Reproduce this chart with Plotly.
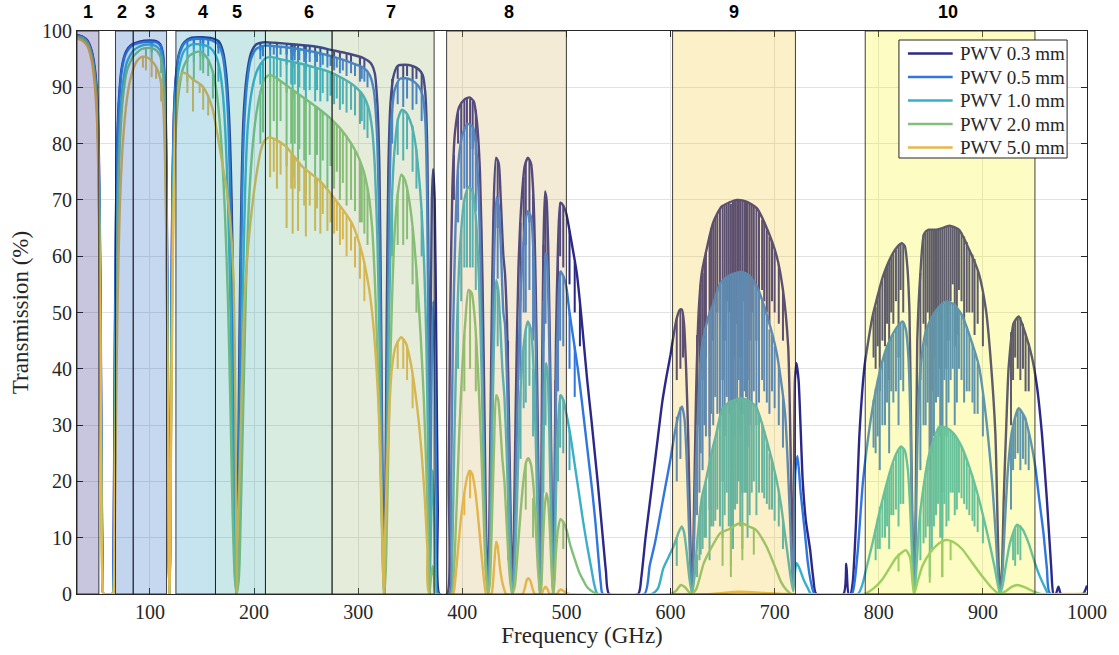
import plotly.graph_objects as go

# ---------------------------------------------------------------------------
# Atmospheric transmission at the ALMA site for five PWV values
# envelope points: (frequency GHz, transmission %)
# narrow line lists: (frequency GHz, top %, bottom %)
# ---------------------------------------------------------------------------

pwv_labels = ["PWV 0.3 mm", "PWV 0.5 mm", "PWV 1.0 mm", "PWV 2.0 mm", "PWV 5.0 mm"]
pwv_colors = ["#2b2887", "#2f76de", "#3aafc8", "#80c07a", "#e8b84a"]

env_03 = [
    (30, 99.3), (35, 99.0), (40, 98.3), (44, 96.5), (47, 93.5), (49.5, 88), (51, 78), (52.5, 55),
    (53.5, 25), (54.5, 5), (55.5, 0), (64, 0), (65, 5), (66, 35), (67, 60), (68, 75), (70, 87),
    (73, 93.5), (77, 96.3), (82, 97.5), (90, 98.1), (100, 98.3), (106, 98.2), (110, 97.6),
    (112.5, 96), (114.5, 90), (116, 75), (117, 45), (118, 10), (118.75, 0), (119.5, 10),
    (120.5, 45), (121.5, 70), (123, 85), (125, 92), (128, 96), (133, 98), (140, 98.8),
    (150, 98.9), (160, 98.7), (166, 98.2), (170, 96.5), (173, 93), (176, 85), (178.5, 70),
    (180.5, 45), (182, 15), (183.3, 0), (184.5, 15), (186, 45), (188, 72), (190, 85), (193, 92),
    (197, 96), (202, 97.6), (210, 98.0), (220, 97.9), (240, 97.6), (260, 97.2), (275, 96.6),
    (290, 96.0), (305, 95.2), (312, 94.3), (316, 92.5), (318.5, 87), (320.5, 75), (322, 50),
    (323.5, 20), (325, 0), (326.3, 20), (327.5, 50), (329, 75), (331, 87), (334, 92), (338, 93.8),
    (345, 94), (352, 93.8), (358, 93.2), (362, 92.2), (364.5, 89), (366.5, 78), (367.8, 50),
    (368.5, 0), (369.5, 40), (370.8, 70), (372, 75.5), (373.5, 70), (375, 45), (376.5, 15),
    (378, 0), (385.5, 0), (387, 20), (388.5, 50), (390.5, 72), (393, 82), (397, 86.5),
    (402, 87.8), (407, 88.2), (411, 87.5), (414, 84), (417, 75), (419.5, 55), (421.5, 30),
    (423, 10), (424.8, 0), (426.2, 15), (428, 45), (430, 68), (432.5, 77.5), (435, 76.5),
    (437, 70), (439.5, 60), (441, 57), (443, 48), (445, 30), (446.8, 10), (448, 0), (449.5, 10),
    (451.5, 35), (454, 58), (457, 70), (460, 76), (463, 77.5), (466, 76.5), (468.5, 70),
    (470.5, 55), (472.5, 30), (474, 8), (474.7, 0), (475.5, 10), (476.7, 40), (478, 62),
    (479.5, 71.5), (481, 70), (482.5, 62), (484.5, 40), (486, 15), (487.2, 0), (488.4, 15),
    (490, 45), (492, 62), (494.3, 69.5), (497, 69), (500, 67.5), (504, 63.5), (510, 57),
    (514, 50), (517, 44), (520, 38), (524, 31), (530, 20), (535, 10), (538, 4), (541, 0),
    (569, 0), (572, 3), (576, 10), (580, 16), (584, 22), (588, 28), (592, 34), (596, 38.5),
    (600, 42.5), (603, 46), (606, 49), (609, 50.5), (611, 50.5), (613, 48), (615, 40),
    (617, 28), (619, 10), (620.7, 0), (622.3, 12), (624.5, 35), (627, 50), (630, 57),
    (635, 61.5), (641, 66), (649, 68.8), (656, 69.5), (664, 70), (673, 69.7), (683, 68.5),
    (692, 65.2), (702, 60), (708, 54), (713, 44), (715.3, 26), (717, 8), (717.8, 3),
    (718.6, 20), (719.5, 38), (721, 41), (723, 38), (727, 20), (730, 13), (734, 8), (737, 3),
    (740, 0), (766, 0), (768.8, 5.4), (771, 0), (773, 0), (775, 2), (778, 12), (781.5, 28.5),
    (786.3, 40.4), (790, 45), (794, 49.3), (799, 53), (804, 56.4), (809, 58.8), (813.5, 60.5),
    (818, 61.7), (822, 62.3), (825, 61.8), (827.5, 58), (829.5, 50), (831, 30), (832.5, 10),
    (834, 2), (835.5, 15), (837, 45), (840, 57), (843.6, 64), (848, 64.7), (855, 64.7),
    (861, 65), (868, 65.4), (877, 64.7), (887, 61.1), (896, 57), (903, 50.4), (907.5, 41.6),
    (912, 28.5), (915.2, 4.8), (916.8, 0), (918.5, 5), (920, 16.7), (922.5, 30), (924.8, 40.4),
    (929.6, 48.1), (934.4, 49.3), (940.7, 46.3), (947, 42.2), (952, 36.8), (956.7, 28.5),
    (961.5, 16.7), (965.6, 4.8), (967.8, 0), (970, 0), (972.6, 1.3), (975, 0), (996, 0),
    (1000, 1.5),
]

env_05 = [
    (30, 99.2), (35, 99.0), (40, 98.2), (44, 96.3), (47, 93), (49.5, 87), (51, 76), (52.5, 52),
    (53.5, 22), (54.5, 4), (55.5, 0), (64, 0), (65, 4), (66, 32), (67, 57), (68, 73), (70, 86),
    (73, 93), (77, 96), (82, 97.3), (90, 97.9), (100, 98.1), (106, 98.0), (110, 97.4),
    (112.5, 95.5), (114.5, 89), (116, 72), (117, 42), (118, 8), (118.75, 0), (119.5, 8),
    (120.5, 42), (121.5, 68), (123, 84), (125, 91.5), (128, 95.7), (133, 97.8), (140, 98.5),
    (150, 98.6), (160, 98.3), (166, 97.6), (170, 95.5), (173, 91), (175.5, 83), (178, 65),
    (180, 40), (181.8, 12), (183.3, 0), (184.8, 12), (186.5, 42), (188.5, 70), (190.5, 83),
    (193.5, 91), (197, 95), (202, 96.8), (210, 97.4), (220, 97.3), (240, 96.9), (260, 96.2),
    (275, 95.5), (290, 94.6), (305, 93.5), (311, 92.2), (315, 89.5), (318, 82), (320, 68),
    (321.7, 45), (323, 20), (324.5, 2), (325, 0), (325.5, 2), (327, 22), (328.5, 48), (330, 70),
    (332, 84), (335, 89.5), (340, 91.5), (346, 91.6), (352, 91.2), (358, 90.2), (362, 88.5),
    (364.5, 84), (366.3, 70), (367.6, 40), (368.5, 0), (369.8, 25), (371, 45), (372.2, 52),
    (373.7, 40), (375.3, 15), (377, 0), (387.5, 0), (389, 15), (391, 45), (393.5, 65),
    (396, 76), (400, 81.5), (405, 83.5), (410, 83), (413, 80), (416, 70), (418.5, 50),
    (420.5, 28), (422.5, 8), (424.8, 0), (426.5, 10), (428.5, 38), (430.5, 58), (432.8, 70.5),
    (435, 69), (437, 62), (439.5, 50), (441, 48), (443, 38), (445, 22), (447, 5), (448, 0),
    (449.8, 5), (452, 25), (455, 48), (458, 60), (461, 66.5), (463, 68), (466, 67), (468.5, 60),
    (470.5, 45), (472.5, 22), (474, 5), (474.7, 0), (475.7, 5), (477, 30), (478.5, 52),
    (480, 60.5), (481.5, 59), (483, 50), (484.8, 30), (486.3, 8), (487.2, 0), (488.5, 8),
    (490, 35), (492, 50), (494.3, 57.3), (497, 56.5), (500, 54.5), (503, 50), (507, 45),
    (511, 40), (515, 34), (520, 26), (525, 18), (528, 12.5), (531, 6), (533, 2), (535, 0),
    (575, 0), (580, 5), (585, 9), (590, 14), (595, 19), (600, 24), (604, 28.5), (608, 32),
    (611, 33.3), (613.5, 31), (615.5, 24), (617.5, 13), (619.5, 3), (620.7, 0), (622, 5),
    (624, 20), (627, 35), (630, 43.9), (636, 49), (641, 51.5), (647.8, 55.2), (656, 56.5),
    (667, 57.2), (675, 56.7), (683, 54.6), (692, 49.9), (702, 42.8), (710, 32.1), (714.6, 14.3),
    (717, 3), (717.8, 1), (718.6, 10), (720, 22), (722, 24.5), (725, 18), (729, 11), (732, 5.4),
    (735, 2), (738.5, 0), (774, 0), (776.7, 2), (780, 8), (784.7, 19.7), (790, 28), (795, 34),
    (801, 39.5), (807, 43.5), (813, 46), (818, 47.5), (822.9, 48.4), (826, 47), (828.5, 42),
    (830.5, 30), (832, 12), (833.8, 0), (835.5, 10), (837.5, 30), (840, 40), (845, 46.5),
    (852, 49.5), (858, 51), (864.3, 51.9), (872, 51.5), (880, 49.5), (888, 45.5), (896.3, 40.4),
    (902, 33), (906, 26), (909, 19.7), (912.5, 10), (915, 2), (916.5, 0), (918.5, 3), (921, 12),
    (924, 22), (928, 29), (934.4, 33), (940, 31.5), (945, 28), (950.3, 22.6), (954, 17),
    (958.2, 10.8), (961.5, 4.5), (964.6, 0), (1000, 0),
]

env_10 = [
    (30, 99.1), (35, 98.9), (40, 98.0), (44, 96.0), (47, 92.5), (49.5, 86), (51, 74), (52.5, 48),
    (53.5, 18), (54.5, 3), (55.5, 0), (64.5, 0), (65.5, 3), (66.5, 28), (67.5, 52), (69, 70),
    (71, 83), (74, 90.5), (78, 94.5), (84, 96.5), (92, 97.4), (100, 97.6), (106, 97.3),
    (110, 96.5), (112.5, 94.2), (114.3, 88), (115.8, 72), (117, 40), (118, 8), (118.75, 0),
    (119.5, 8), (120.5, 40), (121.6, 66), (123, 80), (125, 88.5), (128, 93.5), (133, 96.5),
    (140, 97.6), (150, 97.6), (158, 97.0), (163, 95.8), (167, 93.2), (170, 89), (172.5, 82),
    (175, 70), (177.5, 50), (179.5, 25), (181.5, 5), (183.3, 0), (185.5, 5), (187.5, 28),
    (189.5, 55), (191.5, 72), (194, 83), (198, 89.5), (203, 93), (210, 95.0), (216, 95.4),
    (225, 95.0), (240, 94.4), (255, 93.7), (270, 92.9), (285, 91.6), (298, 90.0), (305, 88.5),
    (310, 86.3), (313.5, 82.5), (316, 76), (318.5, 63), (320.5, 45), (322, 25), (323.5, 8),
    (325, 0), (326.5, 8), (328, 28), (330, 52), (332, 68), (335, 79), (338.5, 84.5), (342, 86),
    (346, 85.5), (351, 83.5), (355, 80), (358, 75), (361, 68), (363.5, 58), (365.5, 45),
    (367, 28), (368.2, 10), (368.5, 0), (370, 12), (371.5, 22), (373, 15), (374.5, 3),
    (375.5, 0), (389, 0), (390.5, 8), (392.5, 28), (395, 48), (398, 62), (402, 70),
    (406, 72.3), (410, 71.5), (413, 67), (416, 56), (418.5, 40), (420.5, 22), (422.5, 6),
    (424.8, 0), (426.5, 5), (428.5, 25), (430.5, 45), (432.5, 55.8), (434.5, 54), (436.5, 48),
    (438.5, 40), (440.5, 35), (442.5, 26), (444.5, 14), (446.5, 4), (448, 0), (450, 3),
    (452.5, 16), (455, 32), (458, 42), (461, 47), (463, 48.4), (466, 47), (468.5, 40),
    (470.5, 28), (472.5, 12), (474, 2), (474.7, 0), (476, 3), (477.5, 22), (479, 36),
    (480.5, 41), (482, 39), (483.5, 30), (485, 16), (486.5, 3), (487.2, 0), (488.5, 4),
    (490, 18), (492, 30), (494.3, 35.3), (497, 34.5), (500, 32), (504, 28), (508, 23),
    (512, 18), (516, 13), (520, 8.5), (524, 4.5), (527, 1.5), (530, 0), (582, 0), (588, 1),
    (593, 4.5), (598, 6.5), (603, 8.5), (607.5, 10.8), (610.7, 12), (613, 11), (615.5, 7.5),
    (618, 3), (620.7, 0), (623, 3), (626, 10), (630, 17), (634, 20.2), (640, 25.5), (644, 28.5),
    (649.4, 32.7), (656, 34), (662, 34.5), (668.2, 34.8), (675, 34.3), (682, 33.3),
    (692.3, 27.4), (701.9, 20.2), (706, 16), (711.5, 8.4), (715, 3.5), (717.8, 0.5), (719, 3),
    (721, 5.5), (724, 4.5), (728, 2.5), (732, 1), (735, 0), (780, 0), (784, 1.5), (788, 4.5),
    (794, 9), (800, 14), (806, 18.5), (812, 22.5), (817, 25), (821.3, 26.2), (825, 25.5),
    (828, 22), (830.5, 14), (832.5, 4), (834, 0), (836, 4), (839, 13), (843, 19), (848, 24.5),
    (853, 27.5), (858, 29.7), (865, 29.5), (872, 28.5), (880, 26), (888, 22), (896, 17),
    (902, 12.5), (907, 8.5), (911, 5), (914, 2), (916.5, 0), (919, 1.5), (922, 5), (926, 9),
    (932.8, 12.3), (938, 11.5), (944, 9), (950, 5.5), (955, 3), (960, 1), (963, 0), (1000, 0),
]

env_20 = [
    (30, 98.9), (35, 98.7), (40, 97.8), (44, 95.5), (47, 91.8), (49.5, 85), (51, 72), (52.5, 45),
    (53.5, 15), (54.5, 2), (55.5, 0), (64.5, 0), (65.5, 2), (66.5, 24), (67.5, 46), (69, 65),
    (71, 79), (74, 88), (78, 93), (84, 95.5), (92, 96.8), (100, 97.0), (106, 96.6), (110, 95.5),
    (112.3, 93), (114, 86.5), (115.6, 70), (117, 38), (118, 7), (118.75, 0), (119.5, 7),
    (120.6, 36), (121.8, 60), (123.2, 74), (125, 83), (128, 89.5), (132, 93.5), (138, 95.6),
    (145, 96.3), (150, 96.2), (155, 95.2), (160, 93.0), (163, 90.5), (166, 86), (169, 79),
    (172, 68), (175, 52), (177.5, 32), (179.5, 14), (181.5, 3), (183.3, 0), (185.5, 3),
    (187.5, 16), (190, 36), (192.5, 56), (195, 69), (198, 78), (202, 85), (206, 89),
    (210, 91.5), (215, 92.2), (220, 91.8), (230, 90.5), (245, 88.5), (260, 86.5), (275, 84.2),
    (288, 81.5), (298, 78.5), (305, 75.3), (310, 71), (313.5, 65), (316, 56), (318.5, 43),
    (320.5, 30), (322.5, 14), (324, 4), (325, 0), (326.5, 4), (328, 16), (330, 34),
    (332.5, 52), (335, 64), (338, 71), (341.4, 74.5), (345, 73.5), (349, 70), (353, 64),
    (357, 55), (360, 46), (363, 35), (365.5, 22), (367.5, 8), (368.5, 0), (370, 3),
    (371.5, 5), (373, 3), (374.5, 0), (390, 0), (392, 4), (394.5, 15), (397, 28), (400, 40),
    (403, 48.5), (406, 54), (409, 53.5), (412, 49), (415, 40), (418, 27), (420.5, 14),
    (422.5, 4), (424.8, 0), (426.5, 2), (428.5, 13), (430.5, 26), (432.5, 35.3), (434.5, 34.5),
    (436.5, 30), (438.5, 24), (440.5, 20), (442.5, 13), (444.5, 6), (446.5, 1.5), (448, 0),
    (450.5, 1.5), (453, 7), (456, 14.5), (459, 20.5), (461.5, 23.5), (463.5, 24.1), (466, 23),
    (468.5, 19), (470.5, 12.5), (472.5, 5), (474.7, 0), (476, 1.5), (477.5, 9), (479, 15),
    (480.8, 17.9), (482.5, 16.5), (484, 12), (485.5, 5.5), (487.2, 0), (488.5, 2), (490, 7.5),
    (492, 11.5), (494.3, 13.3), (497, 12.8), (500, 11.5), (504, 8.5), (508, 6.2), (512, 4),
    (516, 2.5), (520, 1.2), (526, 0.3), (530, 0), (600, 0), (605, 0.5), (610, 1.6), (614, 1.2),
    (618, 0.3), (620.7, 0), (625, 1), (631.8, 5.4), (638, 7.8), (647.8, 10.8), (656, 11.5),
    (662, 12.2), (668.2, 12.6), (675, 12), (682, 11.4), (692.3, 8.4), (700, 5), (706, 2.2),
    (711, 0.8), (716, 0), (786, 0), (795, 1), (803, 2.5), (810, 4.5), (817, 6.5), (826, 7.8),
    (830, 6.5), (832.5, 2), (834, 0), (837, 2), (842, 5), (850, 7.5), (858, 9), (864.3, 9.6),
    (872, 9.2), (880, 8), (890, 5.5), (900, 3), (908, 1.2), (916, 0), (922, 0.5), (928, 1.3),
    (933, 1.6), (940, 1.2), (948, 0.5), (955, 0), (1000, 0),
]

env_50 = [
    (30, 98.6), (35, 98.3), (40, 97.3), (44, 94.8), (47, 90.5), (49.5, 83), (51, 68), (52.5, 40),
    (53.5, 12), (54.5, 1.5), (55.5, 0), (64.5, 0), (65.5, 1), (66.5, 16), (67.7, 35), (69, 52),
    (71, 68), (74, 80), (78, 88), (82, 92), (87, 94.5), (92, 95.4), (96, 95.4), (100, 95.0),
    (104, 94.2), (108, 92.8), (111, 90.5), (113, 86), (114.8, 75), (116.3, 55), (117.5, 25),
    (118.4, 5), (118.75, 0), (119.2, 5), (120.2, 26), (121, 40), (122.5, 65), (124, 80),
    (126, 88), (128.5, 91.3), (131.8, 92.6), (136, 92.3), (140, 91.6), (144.6, 91),
    (150, 90.3), (155, 88.8), (160, 86.3), (165, 81.5), (170, 76), (174, 71.5), (178, 64),
    (180.5, 55), (182, 35), (183, 10), (183.5, 0), (184, 8), (186, 20), (188.5, 38),
    (190.8, 52), (195, 63), (199, 70), (202, 74.1), (206.7, 78.9), (210, 80.5), (214.6, 81.1),
    (220, 80.8), (230.6, 79.5), (246.5, 75.9), (262.4, 73.5), (278.4, 70), (294.2, 65.8),
    (303.8, 60.5), (310.2, 54.6), (314, 49), (317, 42), (319.7, 33), (322, 20), (323.5, 8),
    (324.5, 0), (325.5, 8), (327.6, 21.4), (330, 33), (332.4, 40), (336, 44), (341.4, 45.6),
    (346, 44.5), (350, 41.5), (354, 37), (358, 31), (361, 25), (364, 17), (366.5, 8),
    (368.5, 0), (391, 0), (393, 2), (395.5, 7), (398.5, 13), (402, 18), (405, 21), (407, 21.9),
    (409.5, 21.3), (412, 19), (414.5, 15), (417, 10), (419.5, 5), (421.5, 1.5), (423, 0),
    (428, 0), (429.5, 2), (431, 6), (432.5, 9.3), (434, 8.5), (436, 5), (438, 2.5), (440, 1),
    (442, 0), (458, 0), (460, 1), (462, 2.5), (463.5, 2.8), (465.5, 2.3), (467.5, 1),
    (469.5, 0), (476, 0), (478, 0.8), (480, 1.3), (482, 0.8), (484, 0), (491, 0), (493, 0.6),
    (495, 0.8), (497.5, 0.5), (500, 0.2), (503, 0), (640, 0), (665, 0.4), (690, 0.2), (710, 0),
    (1000, 0),
]

lines_03 = [
    (101.7, 98.3, 97.5), (142.2, 98.8, 97.6), (151.2, 98.9, 97.9), (165.8, 98.2, 97),
    (206.1, 97.8, 96.5), (215.5, 98.0, 96.6), (222, 97.9, 96.8), (231.3, 97.8, 95.8),
    (235.7, 97.7, 96.2), (237.1, 97.7, 95.5), (239.1, 97.6, 96.3), (242.3, 97.6, 95.5),
    (248.2, 97.4, 96), (249.8, 97.4, 95.3), (253.5, 97.3, 96), (258.7, 97.2, 95.4),
    (263.7, 97.1, 95.6), (270.5, 96.8, 95.5), (276.9, 96.6, 95), (282.5, 96.3, 94.8),
    (288.9, 96.0, 94.5), (293.2, 95.8, 94.5), (301.8, 95.4, 93.8), (306, 95.1, 93.5),
    (332.7, 91.5, 88), (338, 93.8, 91.5), (343.3, 94, 91.3), (347, 94, 92), (352.3, 93.8, 91),
    (356, 93.5, 91.5), (361, 92.5, 89),
    (392, 78, 70), (396, 85.5, 80), (399, 87, 80), (402, 87.7, 82), (404.5, 88, 83),
    (407.5, 88, 81), (410, 87.5, 79), (413, 86, 78), (430.5, 70, 60), (434, 77, 65),
    (444, 45, 30), (452.5, 45, 35), (456, 66, 52), (459, 74, 62), (461, 76.5, 62),
    (464.5, 77, 66), (468, 71, 58), (478, 62, 45), (480, 71, 60), (489.5, 38, 28),
    (492, 62, 48), (494, 69.5, 60), (497, 69, 58), (503, 64.5, 55), (508, 59, 50),
    (513, 51.5, 44),
    (606, 49, 38), (609.5, 50.5, 40), (612, 49.5, 42), (625.5, 46, 30), (627.8, 52, 30),
    (629, 55, 40), (630.8, 57, 38), (632.5, 59.5, 44), (634, 60.8, 42), (637.5, 63.5, 28),
    (639, 65, 50), (641, 66, 45), (643, 66.8, 52), (645, 67.5, 50), (647.5, 68.5, 48),
    (650, 68.8, 38), (652, 69, 45), (654, 69.1, 52), (656, 69.5, 50), (658, 69.3, 22),
    (660, 69.7, 35), (662, 69.8, 42), (664, 70, 48), (665.5, 69.9, 55), (667, 69.9, 42),
    (669, 69.8, 32), (671, 69.8, 52), (672.5, 69.7, 50), (674, 69.7, 38), (676, 69.5, 45),
    (678, 69.3, 50), (680, 69, 55), (682.5, 68.6, 45), (685, 68, 50), (688, 66.5, 54),
    (690, 66, 52), (692.5, 65, 50), (695, 63.5, 48), (697.5, 62.5, 52), (700, 61, 50),
    (704, 58.5, 48), (708, 54, 45),
    (795, 50, 42), (797, 51, 40), (799, 53, 44), (801, 54.5, 36), (803.5, 56, 45),
    (806, 57.5, 44), (808, 58.5, 48), (810, 59, 38), (812, 60, 50), (814, 60.5, 48),
    (816.5, 61.2, 52), (819, 61.8, 42), (821, 62.2, 54), (823.5, 62.2, 50), (840, 57, 38),
    (843, 63.8, 48), (845, 64.2, 44), (847, 64.6, 50), (849, 64.7, 22), (851, 64.7, 36),
    (853, 64.7, 42), (855, 64.7, 48), (857, 64.8, 50), (859, 64.9, 40), (861, 65, 18),
    (863, 65.1, 52), (865, 65.2, 40), (867, 65.4, 45), (869, 65.4, 52), (871, 65.3, 55),
    (873, 65.2, 44), (875, 65, 46), (877, 64.7, 54), (879.5, 64.2, 52), (882, 63.5, 48),
    (884.5, 62.5, 50), (887, 61.1, 50), (890, 60.3, 50), (892, 59.5, 46), (895, 57.5, 48),
    (900, 53.5, 44), (927, 46.5, 30), (929, 48, 38), (931, 48.5, 42), (933.5, 49.2, 40),
    (936, 49.2, 38), (938.5, 48, 40), (941, 46.2, 36), (944, 44.5, 36),
]

lines_05 = [
    (101.7, 98.1, 97.2), (110.8, 97.4, 96.2), (136, 98.2, 96.8), (142.2, 98.5, 96.8),
    (148.5, 98.6, 97.3), (151.2, 98.6, 97), (156, 98.5, 97.4), (165.8, 97.7, 96),
    (206.1, 97.1, 95), (208.6, 97.3, 95.5), (215.5, 97.4, 95.2), (219, 97.4, 95.8),
    (222, 97.3, 95), (225.5, 97.2, 95.8), (231.3, 97.1, 94), (235.7, 97, 94.8),
    (237.1, 97, 93.5), (239.1, 96.9, 94.8), (242.3, 96.9, 93.5), (243.5, 96.9, 94.8),
    (248.2, 96.7, 94.5), (249.8, 96.6, 93), (253.5, 96.5, 94.5), (258.7, 96.4, 93.5),
    (260.5, 96.3, 94.5), (263.7, 96.2, 93.5), (266, 96.0, 94), (270.5, 95.8, 93.5),
    (273.5, 95.6, 93.8), (276.9, 95.4, 93), (279.5, 95.2, 93.5), (282.5, 95, 92.5),
    (285.3, 94.9, 93), (288.9, 94.6, 92), (293.2, 94.4, 92.5), (297, 94.1, 92),
    (301.8, 93.8, 91), (303.5, 93.6, 91.5), (306, 93.4, 91), (309, 92.8, 90),
    (332.7, 86, 80), (338, 91, 87), (343.3, 91.6, 86.5), (347, 91.6, 88), (352.3, 91.2, 86),
    (356, 90.6, 87), (361, 89, 84),
    (396, 76, 66), (399, 80, 70), (402, 82, 72), (404.5, 83.2, 72), (407.5, 83.5, 72),
    (410, 83, 70), (413, 80, 68), (430.5, 58, 45), (434, 70, 56), (444, 32, 18),
    (456, 52, 38), (459, 62.5, 50), (461, 66.5, 50), (464.5, 67.5, 54), (468, 60, 45),
    (478, 52, 35), (480, 60.5, 48), (492, 50, 36), (494, 57.3, 45), (497, 56.5, 44),
    (503, 50, 40), (508, 44, 35),
    (606, 31.5, 20), (609.5, 33.2, 24), (625.5, 27, 14), (627.8, 38, 18), (629, 41, 25),
    (630.8, 44, 22), (632.5, 45.5, 30), (634, 47, 28), (637.5, 49.5, 15), (639, 50.5, 32),
    (641, 51.5, 30), (643, 52.5, 35), (645, 54, 32), (647.5, 55, 30), (650, 55.5, 20),
    (652, 56, 28), (654, 56.3, 35), (656, 56.5, 32), (658, 56.6, 12), (660, 56.7, 22),
    (662, 56.9, 28), (664, 57, 34), (665.5, 57.1, 38), (667, 57.2, 28), (669, 57.2, 18),
    (671, 57.1, 36), (672.5, 57, 35), (674, 56.8, 26), (676, 56.6, 30), (678, 56.2, 34),
    (680, 55.5, 36), (682.5, 54.8, 30), (685, 53.8, 34), (688, 52.5, 38), (690, 51, 36),
    (692.5, 49.6, 34), (695, 47, 32), (697.5, 46, 36), (700, 44, 33), (704, 40.5, 30),
    (708, 35, 26),
    (795, 34.5, 26), (797, 36.5, 25), (799, 38, 28), (801, 39.5, 22), (803.5, 41.5, 30),
    (806, 43, 30), (808, 44.2, 34), (810, 45, 25), (812, 45.6, 36), (814, 46.2, 34),
    (816.5, 47, 36), (819, 47.6, 30), (821, 48.1, 38), (823.5, 48.3, 36), (840, 40, 22),
    (843, 44, 30), (845, 46.5, 30), (847, 47.8, 34), (849, 48.5, 12), (851, 49.2, 25),
    (853, 49.6, 28), (855, 50.2, 34), (857, 50.7, 35), (859, 51, 28), (861, 51.3, 10),
    (863, 51.6, 38), (865, 51.9, 28), (867, 51.9, 34), (869, 51.8, 38), (871, 51.6, 40),
    (873, 51.4, 30), (875, 51, 34), (877, 50.4, 40), (879.5, 49.7, 38), (882, 48.8, 34),
    (884.5, 47.5, 36), (887, 46, 36), (890, 44.5, 34), (892, 43, 32), (895, 41, 32),
    (900, 35.5, 28), (927, 28, 15), (929, 29.5, 22), (931, 31, 24), (933.5, 32.8, 25),
    (936, 32.8, 22), (938.5, 32, 24), (941, 31.3, 23), (944, 28.8, 22),
]

lines_10 = [
    (101.7, 97.6, 96.2), (110.8, 96.5, 94.5), (136, 97.2, 94.5), (142.2, 97.6, 94.5),
    (148.5, 97.6, 95.5), (151.2, 97.6, 95), (156, 97.3, 95.5), (165.8, 94.2, 91),
    (206.1, 94.2, 90.5), (208.6, 94.7, 91), (215.5, 95.4, 91), (219, 95.3, 92),
    (222, 95.2, 90.5), (225.5, 95.0, 91.8), (231.3, 94.8, 89), (235.7, 94.6, 90.5),
    (237.1, 94.6, 88), (239.1, 94.5, 90.5), (242.3, 94.4, 88), (243.5, 94.4, 90),
    (248.2, 94.1, 89.5), (249.8, 94.1, 87), (253.5, 93.8, 89.5), (258.7, 93.6, 87.5),
    (260.5, 93.5, 89.5), (263.7, 93.4, 87.5), (266, 93.2, 89), (270.5, 92.9, 87.5),
    (273.5, 92.7, 88.5), (276.9, 92.5, 87), (279.5, 92.2, 88), (282.5, 91.9, 86),
    (285.3, 91.6, 87), (288.9, 91.2, 85.5), (293.2, 90.7, 86), (297, 90.1, 85),
    (301.8, 89.3, 83.5), (303.5, 89, 84), (306, 88, 82.5), (309, 86.8, 81),
    (332.7, 70, 60), (338, 84.5, 78), (343.3, 86, 77), (347, 85.3, 79), (352.3, 83.2, 75),
    (356, 79, 72), (361, 68, 60),
    (396, 52, 40), (399, 64.5, 52), (402, 70, 58), (404.5, 71.5, 58), (407.5, 72.2, 58),
    (410, 71.5, 58), (413, 67, 54), (434, 54.5, 44), (444, 16, 6), (456, 36, 24),
    (459, 44, 33), (461, 47, 34), (464.5, 48, 37), (468, 40, 28), (478, 30, 18),
    (480, 41, 30), (492, 30, 20), (494, 35.3, 26), (497, 34.5, 25), (503, 29, 22),
    (606, 10, 5), (625.5, 7, 3), (627.8, 14, 6), (629, 15.5, 7), (630.8, 17.5, 8),
    (632.5, 19, 10), (634, 20.2, 10), (637.5, 23.5, 6), (639, 24.5, 12), (641, 26, 12),
    (643, 27.5, 13), (645, 29.5, 15), (647.5, 31.5, 12), (650, 33, 10), (652, 33.4, 14),
    (654, 33.7, 18), (656, 34, 12), (658, 34.1, 5), (660, 34.3, 8), (662, 34.5, 15),
    (664, 34.6, 16), (665.5, 34.7, 20), (667, 34.8, 12), (669, 34.8, 8), (671, 34.7, 18),
    (672.5, 34.6, 18), (674, 34.5, 10), (676, 34.2, 14), (678, 34, 18), (680, 33.6, 20),
    (682.5, 33, 14), (685, 32, 18), (688, 30.5, 18), (690, 29, 17), (692.5, 27.3, 16),
    (695, 25, 15), (697.5, 24, 15), (700, 21.5, 13), (704, 18.5, 12), (708, 13.5, 8),
    (797, 11.5, 6), (799, 13.5, 8), (801, 15.5, 8), (803.5, 16.5, 10), (806, 18.5, 10),
    (808, 20, 12), (810, 21, 8), (812, 22.5, 14), (814, 23.3, 14), (816.5, 24.8, 15),
    (819, 25.6, 12), (821, 26.1, 16), (823.5, 26, 16), (840, 15, 6), (843, 19, 9),
    (845, 21.5, 10), (847, 23.8, 12), (849, 25, 3), (851, 26.3, 8), (853, 27.5, 12),
    (855, 28.3, 14), (857, 29.3, 16), (859, 29.6, 10), (861, 29.7, 3), (863, 29.6, 16),
    (865, 29.5, 12), (867, 29.3, 13), (869, 29, 18), (871, 28.7, 18), (873, 28.4, 14),
    (875, 27.6, 15), (877, 27, 18), (879.5, 26.2, 17), (882, 25, 16), (884.5, 24, 15),
    (887, 22.2, 14), (890, 21, 13), (892, 19.5, 12), (895, 17.5, 11), (900, 14, 9),
    (929, 11, 6), (931, 12, 5), (933.5, 12.3, 7), (936, 12.2, 6),
]

lines_20 = [
    (96.2, 96.9, 95.2), (101.7, 96.9, 94.5), (110.8, 95.5, 92.5), (136, 95.3, 91),
    (142.2, 96, 91.5), (148.5, 96.2, 93), (151.2, 96.1, 92.5), (156, 95, 92),
    (160.5, 92.8, 88),
    (206.1, 89.3, 80), (208.6, 90.5, 82), (215.5, 92.1, 81), (219, 91.9, 84),
    (222, 91.6, 79), (225.5, 91.2, 84), (231.3, 90.3, 76), (235.7, 89.8, 80),
    (237.1, 89.6, 74), (239.1, 89.3, 80), (242.3, 88.9, 74), (243.5, 88.8, 79),
    (248.2, 88.1, 77), (249.8, 87.9, 71), (253.5, 87.4, 78), (258.7, 86.7, 73),
    (260.5, 86.5, 78), (263.7, 86.0, 73), (266, 85.7, 77), (270.5, 85.0, 72),
    (273.5, 84.5, 76), (276.9, 83.9, 72), (279.5, 83.3, 75), (282.5, 82.7, 70),
    (285.3, 82.1, 73), (288.9, 81.4, 69), (293.2, 80.1, 70), (297, 79, 68),
    (301.8, 76.8, 66), (303.5, 76.2, 66), (306, 74.5, 64), (309, 72, 62),
    (338, 71, 62), (343.3, 74.3, 62), (347, 72.5, 63), (352.3, 65, 55), (356, 57.5, 50),
    (402, 46, 36), (407.5, 54, 40), (413, 46, 36), (461, 23.3, 15), (468, 17, 10),
    (497, 12.8, 8),
    (650, 11, 5), (658, 11.8, 3), (669, 12.6, 6), (680, 11.6, 7),
    (819, 7.2, 4), (849, 7.6, 2), (861, 9.3, 3), (869, 9.5, 6),
]

lines_50 = [
    (93.3, 95.4, 93.5), (96.2, 95.4, 93), (101.7, 94.9, 91.8), (106, 93.7, 91.5),
    (110.8, 91.5, 87.5), (136, 92.3, 89), (141.4, 91.5, 85.7), (147.8, 90.6, 89),
    (151.2, 89.9, 86), (156, 88.6, 85),
    (215.5, 81.1, 74), (219, 80.9, 75), (222, 80.6, 72), (225.5, 80.1, 74.5),
    (231.3, 79.4, 65), (235.7, 78.5, 72), (237.1, 78.2, 64), (239.1, 77.7, 72),
    (242.3, 77, 64.5), (243.5, 76.7, 71.5), (248.2, 75.7, 69), (249.8, 75.5, 63.5),
    (253.5, 75, 69), (258.7, 74.1, 64.5), (260.5, 73.8, 68.5), (263.7, 73.3, 64),
    (266, 72.9, 67.5), (270.5, 71.9, 64.5), (273.5, 71.1, 66), (276.9, 70.4, 64),
    (279.5, 69.7, 64.5), (282.5, 68.8, 62), (285.3, 68, 63), (288.9, 67.2, 60),
    (293.2, 66, 61), (297, 63.5, 58), (301.8, 61.5, 56), (306, 58.5, 52),
    (338, 45, 40), (343.3, 45.4, 40), (347, 44.3, 38), (352.3, 39, 33),
    (402, 18, 14), (407.5, 21.9, 17),
]

envelopes = [env_03, env_05, env_10, env_20, env_50]
line_sets = [lines_03, lines_05, lines_10, lines_20, lines_50]

# ALMA receiver bands: number, low edge, high edge (GHz), label position (GHz)
band_names = ["1", "2", "3", "4", "5", "6", "7", "8", "9", "10"]
band_lo = [30, 67, 84, 125, 163, 211, 275, 385, 602, 787]
band_hi = [51, 84, 116, 163, 211, 275, 373, 500, 720, 950]
band_label_f = [40.2, 73.6, 100, 150.6, 184, 252.8, 331.1, 444.8, 660.7, 866.2]
band_rgb = [
    (35, 27, 123), (15, 83, 191), (23, 99, 195), (27, 147, 191), (43, 163, 163),
    (99, 179, 131), (155, 179, 107), (207, 175, 87), (243, 195, 35), (247, 247, 15),
]

freq_ticks = [100, 200, 300, 400, 500, 600, 700, 800, 900, 1000]
trans_ticks = [0, 10, 20, 30, 40, 50, 60, 70, 80, 90, 100]

fig = go.Figure()

for name, color, env, lines in zip(pwv_labels, pwv_colors, envelopes, line_sets):
    fig.add_trace(go.Scatter(
        x=[p[0] for p in env], y=[p[1] for p in env],
        mode="lines", name=name, showlegend=False,
        line=dict(color=color, width=2.4, shape="spline", smoothing=0.6),
    ))
    sx, sy = [], []
    for f, top, bottom in lines:
        sx += [f, f, None]
        sy += [top, bottom, None]
    fig.add_trace(go.Scatter(
        x=sx, y=sy, mode="lines", showlegend=False, hoverinfo="skip",
        line=dict(color=color, width=2),
    ))

# translucent band patches drawn over the curves
shapes = []
for lo, hi, (r, g, b) in zip(band_lo, band_hi, band_rgb):
    shapes.append(dict(
        type="rect", xref="x", yref="y", x0=lo, x1=hi, y0=0, y1=100,
        layer="above", fillcolor=f"rgba({r},{g},{b},0.25)",
        line=dict(color="rgba(30,30,30,0.85)", width=1),
    ))

annotations = []
for name, f in zip(band_names, band_label_f):
    annotations.append(dict(
        x=f, y=1.0337, xref="x", yref="paper", text=f"<b>{name}</b>",
        showarrow=False, xanchor="center", yanchor="middle",
        font=dict(family="Liberation Sans", size=18, color="black"),
    ))

# boxed legend in the upper right corner (paper coordinates)
leg_x0, leg_x1, leg_y0, leg_y1 = 0.8138, 0.9803, 0.7744, 0.9840
leg_row_top, leg_row_step = 0.9600, 0.04175
leg_line_x0, leg_line_x1, leg_text_x = 0.8227, 0.8670, 0.8719
shapes.append(dict(
    type="rect", xref="paper", yref="paper", x0=leg_x0, x1=leg_x1, y0=leg_y0, y1=leg_y1,
    layer="above", fillcolor="white", line=dict(color="#262626", width=1),
))
for i, (name, color) in enumerate(zip(pwv_labels, pwv_colors)):
    yy = leg_row_top - i * leg_row_step
    shapes.append(dict(
        type="line", xref="paper", yref="paper", x0=leg_line_x0, x1=leg_line_x1,
        y0=yy, y1=yy, layer="above", line=dict(color=color, width=2.4),
    ))
    annotations.append(dict(
        x=leg_text_x, y=yy, xref="paper", yref="paper", text=name, showarrow=False,
        xanchor="left", yanchor="middle",
        font=dict(family="Liberation Serif", size=19, color="#262626"),
    ))

axis_common = dict(
    showline=True, linecolor="#262626", linewidth=1, mirror="ticks",
    ticks="inside", ticklen=6, tickcolor="#262626",
    showgrid=True, gridcolor="#e2e2e2", gridwidth=1, zeroline=False,
    tickfont=dict(family="Liberation Serif", size=20, color="#262626"),
)

fig.update_layout(
    width=1119, height=655,
    margin=dict(l=77, r=27, t=31, b=61),
    plot_bgcolor="white", paper_bgcolor="white",
    font=dict(family="Liberation Serif", size=18, color="#262626"),
    shapes=shapes, annotations=annotations,
    showlegend=False,
    xaxis=dict(
        range=[30, 1000], tickvals=freq_ticks,
        title=dict(text="Frequency (GHz)", font=dict(size=23), standoff=4),
        **axis_common,
    ),
    yaxis=dict(
        range=[0, 100], tickvals=trans_ticks,
        title=dict(text="Transmission (%)", font=dict(size=23), standoff=6),
        **axis_common,
    ),
)

fig.write_html("out.html")
